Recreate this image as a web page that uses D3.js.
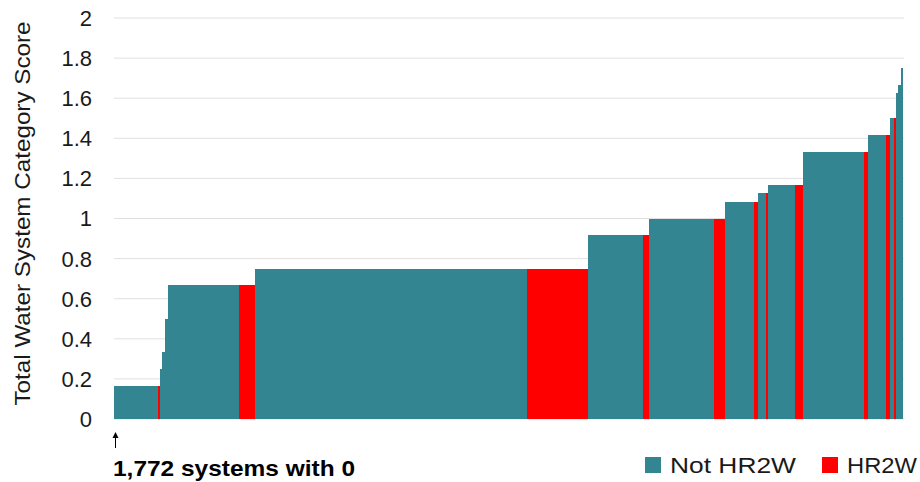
<!DOCTYPE html>
<html>
<head>
<meta charset="utf-8">
<script src="https://cdn.jsdelivr.net/npm/d3@7"></script>
<style>
  html, body { margin: 0; padding: 0; background: #fff; }
  svg { display: block; font-family: Arial, "Liberation Sans", sans-serif; }
</style>
</head>
<body>
<svg id="chart" width="920" height="482"></svg>
<script>
// Sorted systems grouped into runs of equal score (widths = number of systems, estimated)
const scores = [0.1667, 0.1667, 0.25, 0.3333, 0.5, 0.6667, 0.6667, 0.75, 0.75, 0.9167, 0.9167,
                1.0, 1.0, 1.0833, 1.0833, 1.125, 1.125, 1.1667, 1.1667, 1.3333, 1.3333,
                1.4167, 1.4167, 1.5, 1.5, 1.625, 1.6667, 1.75];
const counts = [133, 5, 5, 10, 10, 213, 47, 817, 183, 163, 19,
                195, 34, 86, 11, 25, 6, 81, 25, 182, 11,
                55, 12, 13, 5, 5, 9, 7];
const groups = ["Not HR2W", "HR2W", "Not HR2W", "Not HR2W", "Not HR2W", "Not HR2W", "HR2W",
                "Not HR2W", "HR2W", "Not HR2W", "HR2W", "Not HR2W", "HR2W", "Not HR2W", "HR2W",
                "Not HR2W", "HR2W", "Not HR2W", "HR2W", "Not HR2W", "HR2W", "Not HR2W", "HR2W",
                "Not HR2W", "HR2W", "Not HR2W", "Not HR2W", "Not HR2W"];
const yTicks = [0, 0.2, 0.4, 0.6, 0.8, 1, 1.2, 1.4, 1.6, 1.8, 2];
const legendItems = ["Not HR2W", "HR2W"];
const yTitle = "Total Water System Category Score";
const zeroNote = "1,772 systems with 0";

const color = d3.scaleOrdinal().domain(legendItems).range(["#348592", "#ff0000"]);

// Build segment table
let cum = 0;
const segs = scores.map((s, i) => {
  const d = { x0: cum, x1: cum + counts[i], score: s, group: groups[i] };
  cum += counts[i];
  return d;
});

const svg = d3.select("#chart");
const x = d3.scaleLinear().domain([0, cum]).range([114, 903]);
const y = d3.scaleLinear().domain([0, 2]).range([419, 18]);

// gridlines
svg.append("g").selectAll("line").data(yTicks).join("line")
  .attr("x1", 114).attr("x2", 904)
  .attr("y1", d => y(d)).attr("y2", d => y(d))
  .attr("stroke", "#e0e0e0").attr("stroke-width", 1);

// bars
svg.append("g").selectAll("rect").data(segs).join("rect")
  .attr("x", d => x(d.x0))
  .attr("width", d => x(d.x1) - x(d.x0))
  .attr("y", d => y(d.score))
  .attr("height", d => y(0) - y(d.score))
  .attr("fill", d => color(d.group))
  .attr("shape-rendering", "crispEdges");

// y axis tick labels
svg.append("g").selectAll("text").data(yTicks).join("text")
  .attr("x", 92).attr("y", d => y(d))
  .attr("dy", "0.36em")
  .attr("text-anchor", "end")
  .attr("font-size", 22)
  .attr("fill", "#1a1a1a")
  .text(d => d3.format("~g")(d));

// y title
svg.append("text")
  .attr("transform", `translate(30,${(18 + 409) / 2}) rotate(-90)`)
  .attr("text-anchor", "middle")
  .attr("font-size", 22)
  .attr("fill", "#1a1a1a")
  .attr("textLength", 384)
  .attr("lengthAdjust", "spacingAndGlyphs")
  .text(yTitle);

// arrow
svg.append("line").attr("x1", 115.5).attr("x2", 115.5).attr("y1", 448).attr("y2", 436)
  .attr("stroke", "#000").attr("stroke-width", 1);
svg.append("path").attr("d", "M112.5,438 L115.5,432 L118.5,438 Z").attr("fill", "#000");

// note
svg.append("text")
  .attr("x", 113).attr("y", 476)
  .attr("font-size", 22).attr("font-weight", "bold").attr("fill", "#000")
  .attr("textLength", 242).attr("lengthAdjust", "spacingAndGlyphs")
  .text(zeroNote);

// legend
const legX = [645, 822];
const legW = [126, 70];
const leg = svg.append("g").selectAll("g").data(legendItems).join("g");
leg.append("rect")
  .attr("x", (d, i) => legX[i]).attr("y", 457)
  .attr("width", 16).attr("height", 16)
  .attr("fill", d => color(d));
leg.append("text")
  .attr("x", (d, i) => legX[i] + 25).attr("y", 473)
  .attr("font-size", 22).attr("fill", "#1a1a1a")
  .attr("textLength", (d, i) => legW[i]).attr("lengthAdjust", "spacingAndGlyphs")
  .text(d => d);
</script>
</body>
</html>
